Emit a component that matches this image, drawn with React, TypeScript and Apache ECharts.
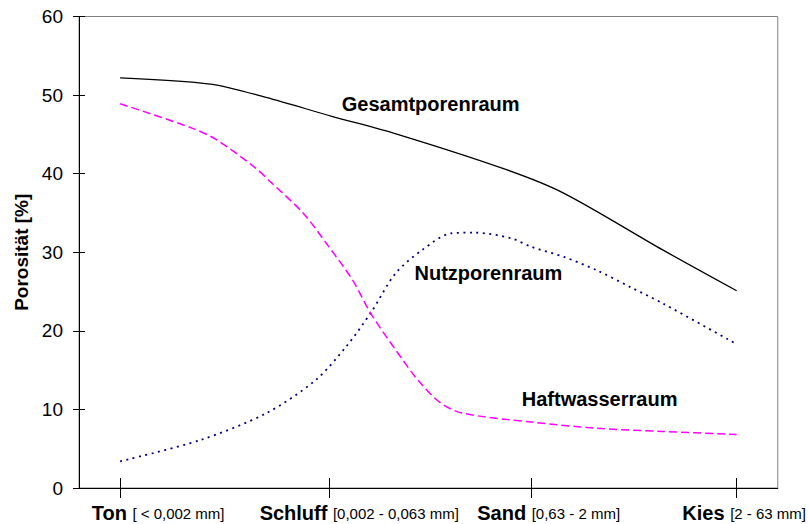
import React, { useEffect, useRef } from "react";
import * as echarts from "echarts";

// Category positions on the x axis (Ton, Schluff, Sand, Kies)
const categories = ["Ton", "Schluff", "Sand", "Kies"];
const grainSizes = ["[ < 0,002 mm]", "[0,002 - 0,063 mm]", "[0,63 - 2 mm]", "[2 - 63 mm]"];
const categoryPos = [0, 1.02, 2, 3];

// y ticks
const yTicks = [0, 10, 20, 30, 40, 50, 60];

// Curves: [x position, porosity %]
const gesamtporenraum: [number, number][] = [
  [0, 52.2], [0.44, 51.4], [0.71, 49.7], [1.03, 47.3], [1.35, 45.0],
  [1.88, 40.5], [2.16, 37.5], [2.64, 30.3], [3.0, 25.1],
];
const haftwasserraum: [number, number][] = [
  [0, 48.9], [0.35, 45.8], [0.47, 44.3], [0.66, 40.7], [0.73, 39.0],
  [0.89, 35.0], [1.01, 30.9], [1.13, 26.5], [1.22, 22.2], [1.34, 17.6],
  [1.45, 13.7], [1.56, 10.8], [1.67, 9.5], [2.0, 8.4], [2.32, 7.6],
  [2.64, 7.2], [3.0, 6.8],
];
const nutzporenraum: [number, number][] = [
  [0, 3.4], [0.39, 6.1], [0.71, 9.5], [0.95, 13.7], [1.1, 18.0],
  [1.22, 22.3], [1.34, 27.3], [1.47, 30.3], [1.61, 32.4], [1.72, 32.5],
  [1.9, 31.8], [2.0, 30.7], [2.16, 29.4], [2.32, 27.7], [2.48, 25.6],
  [2.64, 23.5], [3.0, 18.3],
];

const seriesNames = ["Gesamtporenraum", "Nutzporenraum", "Haftwasserraum"];
const labelAnchors: [number, number][] = [[1.076, 48.9], [1.43, 27.4], [1.952, 11.3]];
const labelSpacers = [76, 59, 35, 15];

const FONT = "'Liberation Sans', Arial, Helvetica, sans-serif";

export default function App() {
  const ref = useRef<HTMLDivElement>(null);
  useEffect(() => {
    if (!ref.current) return;
    const chart = echarts.init(ref.current, null, { renderer: "svg" });
    const markLabel = (i: number) => ({
      symbol: "circle",
      symbolSize: 1,
      silent: true,
      itemStyle: { color: "rgba(0,0,0,0)" },
      label: {
        show: true,
        position: "right",
        distance: 0,
        formatter: seriesNames[i],
        fontFamily: FONT,
        fontWeight: "bold",
        fontSize: 20,
        color: "#000",
      },
      data: [{ coord: labelAnchors[i] }],
    });
    const xBase = {
      type: "value",
      min: -0.2,
      max: 3.2,
      position: "bottom",
      splitLine: { show: false },
    };
    const yBase = {
      type: "value",
      min: 0,
      max: 60,
      interval: 10,
      position: "left",
      splitLine: { show: false },
    };
    // one label-only axis per category, so that no label is hidden by overlap checks
    const labelAxes = categories.map((name, i) => ({
      ...xBase,
      axisLine: { show: false, onZero: false },
      axisTick: { show: false },
      axisLabel: {
        show: true,
        showMinLabel: true,
        showMaxLabel: true,
        customValues: [categoryPos[i]],
        margin: 13,
        formatter: () => `{sp| }{b|${name} }{s|${grainSizes[i]}}`,
        rich: {
          sp: { width: labelSpacers[i], fontSize: 15, lineHeight: 24 },
          b: { fontFamily: FONT, fontWeight: "bold", fontSize: 20, color: "#000", lineHeight: 24 },
          s: { fontFamily: FONT, fontSize: 15, color: "#000", lineHeight: 24 },
        },
      },
    }));
    chart.setOption({
      animation: false,
      backgroundColor: "#fff",
      grid: {
        left: 79,
        right: 26,
        top: 16.5,
        bottom: 36,
        show: true,
        borderColor: "#808080",
        borderWidth: 1,
        backgroundColor: "transparent",
      },
      xAxis: [
        {
          ...xBase,
          axisLine: { show: true, onZero: false, lineStyle: { color: "#000", width: 1 } },
          axisTick: {
            show: true,
            inside: false,
            length: 10,
            customValues: categoryPos,
            lineStyle: { color: "#000", width: 1 },
          },
          axisLabel: { show: false },
        },
        {
          ...xBase,
          axisLine: { show: false, onZero: false },
          axisTick: {
            show: true,
            inside: true,
            length: 10,
            customValues: categoryPos,
            lineStyle: { color: "#000", width: 1 },
          },
          axisLabel: { show: false },
        },
        ...labelAxes,
      ],
      yAxis: [
        {
          ...yBase,
          name: "Porosität [%]",
          nameLocation: "middle",
          nameRotate: 90,
          nameGap: 46,
          nameTextStyle: { fontFamily: FONT, fontWeight: "bold", fontSize: 19, color: "#000" },
          axisLine: { show: true, onZero: false, lineStyle: { color: "#000", width: 1 } },
          axisTick: { show: true, inside: false, length: 6, lineStyle: { color: "#000", width: 1 } },
          axisLabel: {
            show: true,
            showMinLabel: true,
            showMaxLabel: true,
            margin: 16,
            fontFamily: FONT,
            fontSize: 19,
            color: "#000",
            formatter: (v: number) => (yTicks.includes(v) ? String(v) : ""),
          },
        },
        {
          ...yBase,
          axisLine: { show: false, onZero: false },
          axisTick: { show: true, inside: true, length: 6, lineStyle: { color: "#000", width: 1 } },
          axisLabel: { show: false },
        },
      ],
      series: [
        {
          name: seriesNames[0],
          type: "line",
          xAxisIndex: 0,
          yAxisIndex: 0,
          data: gesamtporenraum,
          smooth: 0.3,
          showSymbol: false,
          lineStyle: { color: "#000", width: 1.3, type: "solid" },
          markPoint: markLabel(0),
        },
        {
          name: seriesNames[1],
          type: "line",
          xAxisIndex: 0,
          yAxisIndex: 0,
          data: nutzporenraum,
          smooth: 0.3,
          showSymbol: false,
          lineStyle: { color: "#000080", width: 1.8, type: [2, 4.5] },
          markPoint: markLabel(1),
        },
        {
          name: seriesNames[2],
          type: "line",
          xAxisIndex: 0,
          yAxisIndex: 0,
          data: haftwasserraum,
          smooth: 0.3,
          showSymbol: false,
          lineStyle: { color: "#FF00FF", width: 1.5, type: [8, 4] },
          markPoint: markLabel(2),
        },
      ],
    });
    return () => chart.dispose();
  }, []);
  return (
    <div
      ref={ref}
      style={{ position: "absolute", left: 0, top: 0, width: 809, height: 524 }}
    />
  );
}
